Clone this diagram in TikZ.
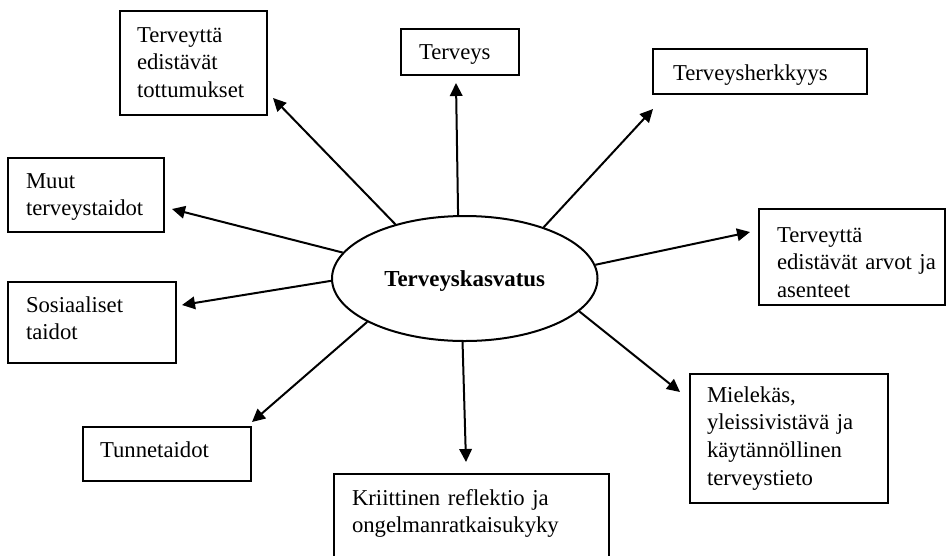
\documentclass[tikz,border=0pt]{standalone}
\usepackage{fontspec}
\setmainfont{Liberation Serif}
\usetikzlibrary{arrows.meta,shapes.geometric}
\begin{document}
\begin{tikzpicture}[x=1pt,y=-1pt,
  txt/.style={font=\fontsize{22.7}{27.7}\selectfont},
  box/.style={txt, draw, line width=1.2pt, inner sep=0pt, outer sep=0pt,
    anchor=north west, align=left},
  lpad/.style={execute at begin node={\leftskip=#1\relax}},
  hub/.style={draw, ellipse, line width=2pt, minimum width=265.5pt,
    minimum height=125pt, inner sep=0pt, text depth=0pt,
    font=\fontsize{22.9}{27.7}\selectfont\bfseries},
  link/.style={line width=2pt, -{Triangle[length=13pt,width=12.5pt]}}]
\useasboundingbox (0,0) rectangle (947,555);
\clip (0,0) rectangle (947,555);

% central concept
\node[hub] (hub) at (464.75,278.5) {Terveyskasvatus};

% surrounding topics
\node[box, text width=147pt, lpad=17pt, text height=31pt, text depth=73pt]
  (tott) at (120,11) {Terveyttä\\edistävät\\tottumukset};
\node[box, text width=118pt, lpad=18pt, text height=30pt, text depth=16pt]
  (terv) at (401,29) {Terveys};
\node[box, text width=214pt, lpad=20pt, text height=31pt, text depth=14pt]
  (herk) at (653,49) {Terveysherkkyys};
\node[box, text width=156pt, lpad=18pt, text height=30pt, text depth=44pt]
  (muut) at (8,158) {Muut\\terveystaidot};
\node[box, text width=186pt, lpad=18pt, text height=33pt, text depth=63pt]
  (arvot) at (759,209) {Terveyttä\\edistävät arvot ja\\asenteet};
\node[box, text width=168pt, lpad=18pt, text height=30pt, text depth=51pt]
  (sos) at (8,282) {Sosiaaliset\\taidot};
\node[box, text width=168pt, lpad=17pt, text height=30pt, text depth=24pt]
  (tunne) at (83,427) {Tunnetaidot};
\node[box, text width=198pt, lpad=17pt, text height=28pt, text depth=101pt]
  (tieto) at (690,374) {Mielekäs,\\yleissivistävä ja\\käytännöllinen\\terveystieto};
\node[box, text width=275pt, lpad=18pt, text height=31pt, text depth=70pt]
  (krit) at (334,474) {Kriittinen reflektio ja\\ongelmanratkaisukyky};

% arrow tips, just outside each box
\coordinate (t1) at (273,98);
\coordinate (t2) at (456,83);
\coordinate (t3) at (653,109);
\coordinate (t4) at (172,209);
\coordinate (t5) at (750,232);
\coordinate (t6) at (182,305);
\coordinate (t7) at (252,422);
\coordinate (t8) at (466,462);
\coordinate (t9) at (680,392);

\draw[link] (hub.142.5) -- (t1);
\draw[link] (hub.96) -- (t2);
\draw[link] (hub.33.5) -- (t3);
\draw[link] (hub.168) -- (t4);
\draw[link] (hub.6) -- (t5);
\draw[link] (hub.181) -- (t6);
\draw[link] (hub.204.7) -- (t7);
\draw[link] (hub.268.4) -- (t8);
\draw[link] (hub.344.2) -- (t9);
\end{tikzpicture}
\end{document}
